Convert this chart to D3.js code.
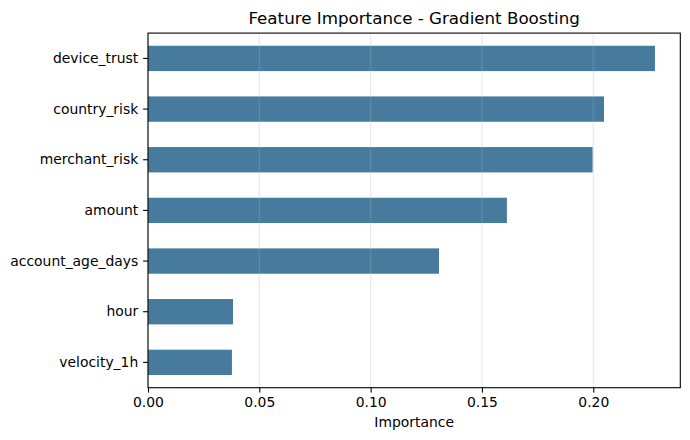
<!DOCTYPE html>
<html>
<head>
<meta charset="utf-8">
<script src="https://cdn.jsdelivr.net/npm/d3@7"></script>
<style>
  body { margin: 0; background: #fff; }
  text { font-family: "DejaVu Sans", sans-serif; fill: #000; }
</style>
</head>
<body>
<div class="chart"></div>
<script>
// data (bottom to top order as plotted)
let features = ["velocity_1h", "hour", "account_age_days", "amount", "merchant_risk", "country_risk", "device_trust"]
let importance = [0.0377, 0.0382, 0.1307, 0.1612, 0.1997, 0.2048, 0.2277]
let xTicks = [0, 0.05, 0.10, 0.15, 0.20]

let width = 690, height = 440
let axLeft = 148, axRight = 680.3, axTop = 33.1, axBottom = 387.7
let barColor = "#467b9d"

let svg = d3.select(".chart")
    .append("svg")
    .attr("width", width)
    .attr("height", height)

let xMax = d3.max(importance) * 1.05
let xScale = d3.scaleLinear().domain([0, xMax]).range([axLeft, axRight])
// band per category, bar width 0.5 of the slot
let yScale = d3.scaleBand()
    .domain(features.slice().reverse())
    .range([axTop, axBottom])
    .paddingInner(0.5)
    .paddingOuter(0.25)

// bars
svg.append("g")
    .selectAll("rect")
    .data(features)
    .enter()
    .append("rect")
    .attr("x", xScale(0))
    .attr("y", (d) => yScale(d))
    .attr("width", (d, i) => xScale(importance[i]) - xScale(0))
    .attr("height", yScale.bandwidth())
    .attr("fill", barColor)

// grid lines (drawn over the bars, translucent)
svg.append("g")
    .selectAll("line")
    .data(xTicks)
    .enter()
    .append("line")
    .attr("x1", (d) => xScale(d))
    .attr("x2", (d) => xScale(d))
    .attr("y1", axTop)
    .attr("y2", axBottom)
    .attr("stroke", "#b0b0b0")
    .attr("stroke-opacity", 0.3)
    .attr("stroke-width", 1.1)

// x axis
let xAxis = d3.axisBottom(xScale)
    .tickValues(xTicks)
    .tickFormat(d3.format(".2f"))
    .tickSize(4.9)
    .tickPadding(4.9)
let gx = svg.append("g")
    .attr("transform", `translate(0,${axBottom})`)
    .call(xAxis)
gx.select(".domain").remove()
gx.selectAll("line").attr("stroke", "#000").attr("stroke-width", 1.1)
gx.selectAll("text").attr("font-size", 13.9).attr("font-family", "DejaVu Sans").attr("fill", "#000")

// y axis
let yAxis = d3.axisLeft(yScale)
    .tickSize(4.9)
    .tickPadding(4.9)
let gy = svg.append("g")
    .attr("transform", `translate(${axLeft},0)`)
    .call(yAxis)
gy.select(".domain").remove()
gy.selectAll("line").attr("stroke", "#000").attr("stroke-width", 1.1)
gy.selectAll("text").attr("font-size", 13.9).attr("font-family", "DejaVu Sans").attr("fill", "#000")

// frame
svg.append("rect")
    .attr("x", axLeft)
    .attr("y", axTop)
    .attr("width", axRight - axLeft)
    .attr("height", axBottom - axTop)
    .attr("fill", "none")
    .attr("stroke", "#000")
    .attr("stroke-width", 1.1)

// title and label
svg.append("text")
    .attr("x", (axLeft + axRight) / 2)
    .attr("y", 24)
    .attr("text-anchor", "middle")
    .attr("font-size", 16.7)
    .text("Feature Importance - Gradient Boosting")

svg.append("text")
    .attr("x", (axLeft + axRight) / 2)
    .attr("y", 427)
    .attr("text-anchor", "middle")
    .attr("font-size", 13.9)
    .text("Importance")
</script>
</body>
</html>
